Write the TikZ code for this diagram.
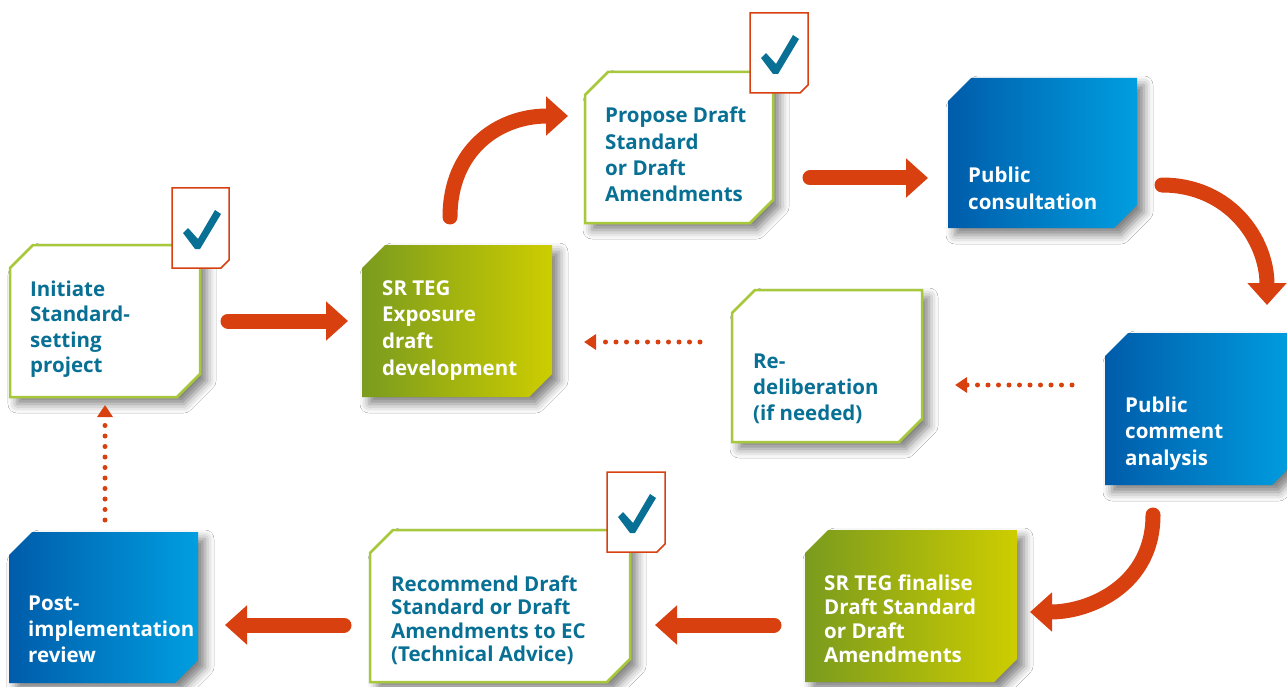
\documentclass[tikz,border=0pt]{standalone}
\usepackage{fontspec}
\setmainfont{Open Sans}
\usetikzlibrary{arrows.meta,calc,shadows.blur}
\definecolor{tealtxt}{RGB}{8,112,148}
\definecolor{limec}{RGB}{168,200,60}
\definecolor{redc}{RGB}{216,64,16}
\definecolor{blueL}{RGB}{0,92,170}
\definecolor{blueR}{RGB}{0,158,224}
\definecolor{greenL}{RGB}{122,155,30}
\definecolor{greenR}{RGB}{205,205,0}
\newcommand\mlines[1]{\begin{tabular}[t]{@{}l@{}}#1\end{tabular}}
\newcommand\chamfbox[3]{%
  \path[#2] ($(#1.north west)+(0,#3)$) -- ($(#1.north west)+(#3,0)$) -- (#1.north east)
    -- ($(#1.south east)+(0,-#3)$) -- ($(#1.south east)+(-#3,0)$) -- (#1.south west) -- cycle;}
\newcommand\checkbox[1]{%
  \path[checkframe] (#1.north west) -- (#1.north east) -- ($(#1.south east)+(0,-8)$)
    -- ($(#1.south east)+(-8,0)$) -- (#1.south west) -- cycle;
  \fill[tealtxt] ($(#1.north west)+(11,45)$) -- ($(#1.north west)+(16,40)$) -- ($(#1.north west)+(26,51)$)
    -- ($(#1.north west)+(43,22)$) -- ($(#1.north west)+(49,26)$) -- ($(#1.north west)+(28,61)$)
    -- ($(#1.north west)+(23,61)$) -- cycle;}
\begin{document}
\begin{tikzpicture}[x=1pt,y=-1pt,
  anch/.style={rectangle, inner sep=0pt, outer sep=0pt, draw=none},
  shad/.style={blur shadow={shadow xshift=7pt, shadow yshift=-7pt, shadow blur radius=9pt, shadow opacity=50}},
  outlinebox/.style={shad, fill=white, draw=limec, line width=2.5pt},
  bluebox/.style={shad, left color=blueL, right color=blueR},
  greenbox/.style={shad, left color=greenL, right color=greenR},
  checkframe/.style={fill=white, draw=redc, line width=1.5pt},
  lbl/.style={anchor=base west, inner sep=0pt, font=\bfseries\fontsize{20.5}{#1}\selectfont},
  dlbl/.style={lbl=#1, text=tealtxt},
  wlbl/.style={lbl=#1, text=white},
  bigarrow/.style={draw=redc, line width=15pt, line cap=round, -{Triangle[length=22pt,width=38pt]}},
  dotarrow/.style={draw=redc, line width=5pt, line cap=round, dash pattern=on 0pt off 10.5pt, -{Triangle[length=12pt,width=15pt]}}
]
\useasboundingbox (0,0) rectangle (1287,687);
\fill[white] (0,0) rectangle (1287,687);

% box anchors
\node[anch, minimum width=190pt, minimum height=152pt] (init) at (105,321) {};
\node[anch, minimum width=190pt, minimum height=152pt] (exp) at (457,321) {};
\node[anch, minimum width=188pt, minimum height=151pt] (prop) at (679,147.5) {};
\node[anch, minimum width=189pt, minimum height=150pt] (pcons) at (1042.5,153) {};
\node[anch, minimum width=190pt, minimum height=152pt] (redel) at (827,366) {};
\node[anch, minimum width=190pt, minimum height=152pt] (pcom) at (1200,409) {};
\node[anch, minimum width=212pt, minimum height=152pt] (fin) at (911,606) {};
\node[anch, minimum width=260pt, minimum height=152pt] (rec) at (500,606) {};
\node[anch, minimum width=189pt, minimum height=151pt] (post) at (103.5,607.5) {};
\node[anch, minimum width=57pt, minimum height=80pt] (c1) at (200.5,228) {};
\node[anch, minimum width=58pt, minimum height=80pt] (c2) at (779,53) {};
\node[anch, minimum width=58pt, minimum height=80pt] (c3) at (636,512) {};

% box shapes
\chamfbox{init}{outlinebox}{23}
\chamfbox{exp}{greenbox}{23}
\chamfbox{prop}{outlinebox}{23}
\chamfbox{pcons}{bluebox}{23}
\chamfbox{redel}{outlinebox}{23}
\chamfbox{pcom}{bluebox}{23}
\chamfbox{fin}{greenbox}{23}
\chamfbox{rec}{outlinebox}{23}
\chamfbox{post}{bluebox}{23}

\checkbox{c1}
\checkbox{c2}
\checkbox{c3}

% texts
\node[dlbl=25.5] (init-t) at (30,296) {\mlines{Initiate\\Standard-\\setting\\project}};
\node[wlbl=26.7] (exp-t) at (382,295) {\mlines{SR TEG\\Exposure\\draft\\development}};
\node[dlbl=26.3] (prop-t) at (605,123) {\mlines{Propose Draft\\Standard\\or Draft\\Amendments}};
\node[wlbl=27] (pcons-t) at (968,183) {\mlines{Public\\consultation}};
\node[dlbl=26] (redel-t) at (753,368) {\mlines{Re-\\deliberation\\(if needed)}};
\node[wlbl=26.5] (pcom-t) at (1125,412) {\mlines{Public\\comment\\analysis}};
\node[wlbl=24] (fin-t) at (824,590) {\mlines{SR TEG finalise\\Draft Standard\\or Draft\\Amendments}};
\node[dlbl=23.5] (rec-t) at (391,591) {\mlines{Recommend Draft\\Standard or Draft\\Amendments to EC\\(Technical Advice)}};
\node[wlbl=26] (post-t) at (28,610) {\mlines{Post-\\implementation\\review}};

% connectors
\draw[bigarrow] ($(init.east)+(28,0)$) -- ($(exp.west)+(-14,0)$);
\draw[bigarrow] ($(exp.north)+(-7,-28)$) .. controls +(0,-67) and +(-70,0) .. ($(prop.west)+(-17,-31.5)$);
\draw[bigarrow] ($(prop.east)+(37,30.5)$) -- ($(pcons.west)+(-20,25)$);
\draw[bigarrow] ($(pcons.east)+(25,32)$) .. controls +(68,0) and +(0,-65) .. ($(pcom.north)+(67,-28)$);
\draw[dotarrow] ($(pcom.west)+(-33,-24)$) -- ($(redel.east)+(33,19)$);
\draw[dotarrow] ($(redel.west)+(-32,-24)$) -- ($(exp.east)+(32,21)$);
\draw[bigarrow] ($(pcom.south)+(-47,30)$) .. controls +(0,70) and +(60,0) .. ($(fin.east)+(13,6)$);
\draw[bigarrow] ($(fin.west)+(-31,19)$) -- ($(rec.east)+(25,19)$);
\draw[bigarrow] ($(rec.west)+(-26,19)$) -- ($(post.east)+(27,17.5)$);
\draw[dotarrow] ($(post.north)+(1.5,-12)$) -- ($(init.south)+(0,8)$);
\end{tikzpicture}
\end{document}
